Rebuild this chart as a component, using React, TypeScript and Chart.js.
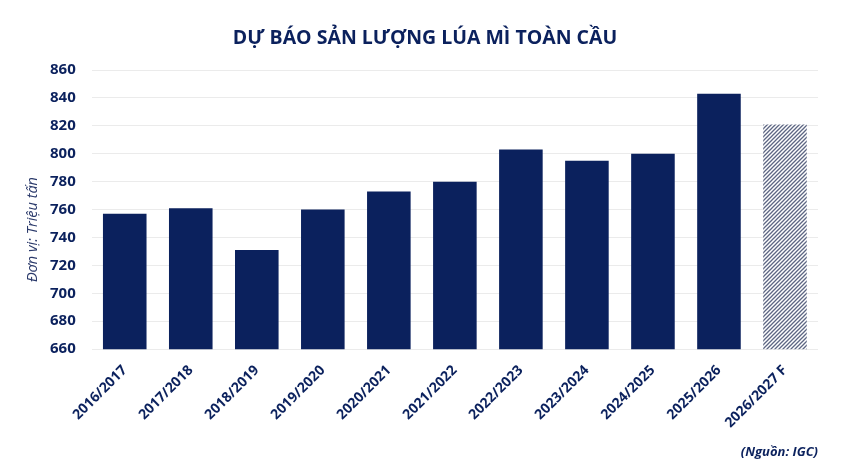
import React, { useEffect, useRef } from "react";
import { Chart, registerables } from "chart.js";

Chart.register(...registerables);

const categories = [
  "2016/2017",
  "2017/2018",
  "2018/2019",
  "2019/2020",
  "2020/2021",
  "2021/2022",
  "2022/2023",
  "2023/2024",
  "2024/2025",
  "2025/2026",
  "2026/2027 F",
];
const production = [757, 761, 731, 760, 773, 780, 803, 795, 800, 843, 821];
const forecastFlags = [false, false, false, false, false, false, false, false, false, false, true];
const yTicks = [660, 680, 700, 720, 740, 760, 780, 800, 820, 840, 860];

const titleText = "DỰ BÁO SẢN LƯỢNG LÚA MÌ TOÀN CẦU";
const unitText = "Đơn vị: Triệu tấn";
const sourceText = "(Nguồn: IGC)";

const NAVY = "#0b215d";
const FONT = "'Open Sans', 'Noto Sans', sans-serif";

function makeHatch(): CanvasPattern | string {
  const c = document.createElement("canvas");
  c.width = 4;
  c.height = 4;
  const g = c.getContext("2d");
  if (!g) return "#8a90a4";
  g.fillStyle = "#ffffff";
  g.fillRect(0, 0, 4, 4);
  g.strokeStyle = "#5d6683";
  g.lineWidth = 1.3;
  g.beginPath();
  g.moveTo(0, 4);
  g.lineTo(4, 0);
  g.moveTo(-1, 1);
  g.lineTo(1, -1);
  g.moveTo(3, 5);
  g.lineTo(5, 3);
  g.stroke();
  const p = g.createPattern(c, "repeat");
  return p || "#8a90a4";
}

const textPlugin = {
  id: "extraText",
  afterDraw(chart: any) {
    const ctx = chart.ctx;
    const area = chart.chartArea;
    ctx.save();
    ctx.textAlign = "center";
    ctx.textBaseline = "middle";
    ctx.fillStyle = NAVY;
    ctx.font = `bold 19.5px ${FONT}`;
    ctx.fillText(titleText, chart.width / 2, 38);
    ctx.translate(33, (area.top + area.bottom) / 2 + 20);
    ctx.rotate(-Math.PI / 2);
    ctx.fillStyle = "#2b3a6b";
    ctx.font = `italic 14.5px ${FONT}`;
    ctx.fillText(unitText, 0, 0);
    ctx.restore();
  },
};

export default function App() {
  const ref = useRef<HTMLCanvasElement | null>(null);
  useEffect(() => {
    document.body.style.margin = "0";
    const canvas = ref.current;
    if (!canvas) return;
    const hatch = makeHatch();
    const chart = new Chart(canvas, {
      type: "bar",
      data: {
        labels: categories,
        datasets: [
          {
            data: production,
            backgroundColor: forecastFlags.map((f) => (f ? hatch : NAVY)) as any,
            borderWidth: 0,
            barPercentage: 0.66,
            categoryPercentage: 1,
          },
        ],
      },
      options: {
        responsive: false,
        animation: false,
        layout: { padding: { left: 34, right: 32, top: 70, bottom: 6 } },
        plugins: {
          legend: { display: false },
          tooltip: { enabled: false },
          title: { display: false },
          subtitle: {
            display: true,
            text: sourceText,
            position: "bottom",
            align: "end",
            color: NAVY,
            font: { family: FONT, size: 13, weight: "bold", style: "italic" },
            padding: { top: 8, bottom: 4 },
          },
        },
        scales: {
          x: {
            grid: { display: false },
            border: { display: false },
            ticks: {
              color: NAVY,
              font: { family: FONT, size: 14, weight: "bold" },
              maxRotation: 45,
              minRotation: 45,
              padding: 5,
            },
          },
          y: {
            min: 660,
            max: 860,
            afterBuildTicks: (axis: any) => {
              axis.ticks = yTicks.map((v) => ({ value: v }));
            },
            grid: { color: "#ebebeb", drawTicks: false, lineWidth: 1 },
            border: { display: false },
            ticks: {
              color: NAVY,
              font: { family: FONT, size: 15, weight: "bold" },
              padding: 16,
            },
          },
        },
      },
      plugins: [textPlugin],
    });
    return () => chart.destroy();
  }, []);
  return (
    <div style={{ width: 850, height: 470, background: "#fff" }}>
      <canvas ref={ref} width={850} height={470} />
    </div>
  );
}
